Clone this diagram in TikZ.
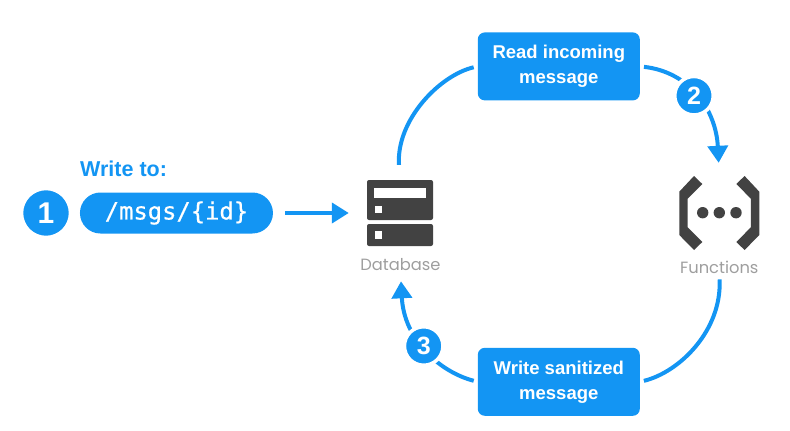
\documentclass[tikz,border=0pt]{standalone}
\usepackage{fontspec}
\setmainfont{Liberation Sans}
\newfontfamily\labelfont{Poppins}
\newfontfamily\codefont[FakeBold=0.6]{DejaVu Sans Mono}
\usetikzlibrary{positioning}
\usetikzlibrary{arrows.meta}
\definecolor{flowblue}{HTML}{1395F3}
\definecolor{icondark}{HTML}{424242}
\definecolor{icongray}{HTML}{9E9E9E}
\tikzset{>={Triangle[width=20pt,length=17pt]}}
\tikzset{flow/.style={draw, flowblue, line width=4pt}}
\tikzset{stepbox/.style={fill=flowblue, text=white, rounded corners=7pt, minimum width=162pt, minimum height=68pt, inner sep=0pt, align=center, font=\fontsize{18.5}{25}\selectfont\bfseries}}
\tikzset{badge/.style={circle, fill=flowblue, draw=white, line width=3.5pt, text=white, minimum size=38.5pt, inner sep=0pt, font=\fontsize{25}{25}\selectfont\bfseries}}
\tikzset{iconlabel/.style={text=icongray, inner sep=0pt, font=\fontsize{16.3}{16}\selectfont\labelfont}}
\tikzset{iconbox/.style={minimum width=66pt, minimum height=66pt, inner sep=0pt}}

\begin{document}
\begin{tikzpicture}[x=1pt, y=-1pt]
\useasboundingbox (0,0) rectangle (790,431);
\node (read) [stepbox] at (558.8,66.4) {Read incoming\\message};
\node (write) [stepbox, below=247pt of read] {Write sanitized\\message};
\node (db) [iconbox] at (400,213) {};
\node (dblabel) [iconlabel] at (400.5,265) {Database};
\node (fn) [iconbox, minimum width=80pt, minimum height=74pt] at (719.3,213) {};
\node (fnlabel) [iconlabel] at (719.3,267) {Functions};
\node (one) [badge, minimum size=49pt, font=\fontsize{30}{30}\selectfont\bfseries] at (46,213) {1};
\node (pill) [fill=flowblue, text=white, rounded corners=20.5pt, minimum width=193pt, minimum height=41pt, inner sep=0pt, font=\fontsize{23.8}{24}\selectfont\codefont, right=7.5pt of one] {/msgs/\{id\}};
\node (title) [text=flowblue, inner sep=0pt, font=\fontsize{21.5}{24}\selectfont\bfseries, anchor=base west] at (80,176.5) {Write to:};

\path [flow, ->, shorten <=12pt, shorten >=18pt] (pill) -- (db);
\path [flow, shorten <=15pt, shorten >=4pt] (db.north) .. controls (396,120) and (440,75) .. (read.west);
\path [flow, ->, shorten <=4pt, shorten >=13pt] (read.east) .. controls (690,72) and (716,110) .. (fn.north);
\path [flow, shorten <=6pt, shorten >=4pt] (fnlabel.south) .. controls (722,330) and (680,372) .. (write.east);
\path [flow, ->, shorten <=4pt, shorten >=10pt] (write.west) .. controls (440,372) and (404,340) .. (dblabel.south);

\node (two) [badge] at (694,95.7) {2};
\node (three) [badge] at (423.7,346) {3};

\fill [icondark, rounded corners=2pt] (367,180) rectangle (433,220);
\fill [icondark, rounded corners=2pt] (367,224) rectangle (433,246);
\fill [white] (374,188) rectangle (426,198);
\fill [white] (375,206) rectangle (382,213);
\fill [white] (375,231) rectangle (382,239);

\fill [icondark] (694,176) -- (702.3,184) -- (687.7,198.7) -- (687.7,227.3) -- (702.3,242) -- (694,250) -- (679.3,235) -- (679.3,191.7) -- cycle;
\fill [icondark] (744.6,176) -- (736.3,184) -- (750.9,198.7) -- (750.9,227.3) -- (736.3,242) -- (744.6,250) -- (759.3,235) -- (759.3,191.7) -- cycle;
\foreach \x in {702.7,719.3,736}
  \fill [icondark] (\x,212.7) circle (5.7);
\end{tikzpicture}
\end{document}
